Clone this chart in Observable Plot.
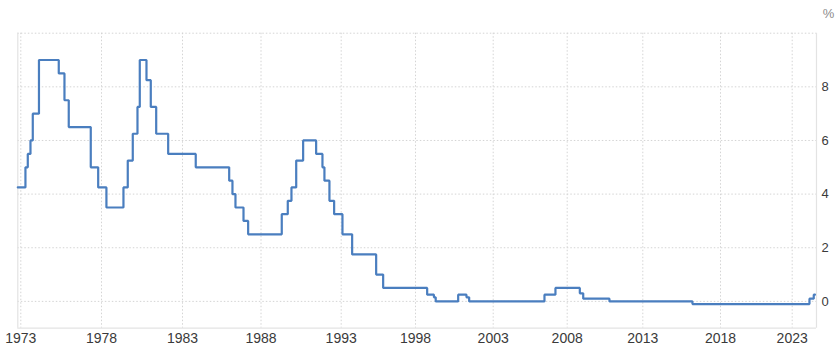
<!DOCTYPE html>
<html>
<head>
<meta charset="utf-8">
<script src="https://cdn.jsdelivr.net/npm/d3@7"></script>
<script src="https://cdn.jsdelivr.net/npm/@observablehq/plot@0.6"></script>
<style>
  html, body { margin: 0; padding: 0; background: #ffffff; }
  #chart svg { display: block; }
</style>
</head>
<body>
<div id="chart"></div>
<script>
// Interest rate (%) — step changes
const changeDates = [
  "1972-10-24", "1973-04-16", "1973-06-08", "1973-08-08", "1973-09-29",
  "1974-02-16", "1975-05-10", "1975-09-16", "1975-12-22", "1977-05-03",
  "1977-10-18", "1978-04-22", "1979-05-11", "1979-08-16", "1979-12-07",
  "1980-03-22", "1980-05-13", "1980-10-11", "1981-01-16", "1981-05-18",
  "1982-02-12", "1983-11-05", "1985-12-22", "1986-03-08", "1986-05-17",
  "1986-11-20", "1987-03-08", "1989-04-18", "1989-09-02", "1989-11-25",
  "1990-03-13", "1990-08-18", "1991-06-10", "1991-11-01", "1991-12-16",
  "1992-04-08", "1992-07-24", "1993-02-01", "1993-09-27", "1995-05-10",
  "1995-10-29", "1998-10-02", "1999-03-10", "1999-04-21", "2000-09-30",
  "2001-04-13", "2001-06-15", "2006-06-19", "2007-03-17", "2008-11-01",
  "2009-01-22", "2010-10-18", "2016-03-13", "2024-03-16", "2024-07-03",
  "2024-08-03"
];
const rates = [
  4.25, 5.0, 5.5, 6.0, 7.0,
  9.0, 8.5, 7.5, 6.5, 5.0,
  4.25, 3.5, 4.25, 5.25, 6.25,
  7.25, 9.0, 8.25, 7.25, 6.25,
  5.5, 5.0, 4.5, 4.0, 3.5,
  3.0, 2.5, 3.25, 3.75, 4.25,
  5.25, 6.0, 5.5, 5.0, 4.5,
  3.75, 3.25, 2.5, 1.75, 1.0,
  0.5, 0.25, 0.15, 0.0, 0.25,
  0.15, 0.0, 0.25, 0.5, 0.3,
  0.1, 0.0, -0.1, 0.1, 0.25,
  0.25
];

// Axis ticks
const xTickYears = [1973, 1978, 1983, 1988, 1993, 1998, 2003, 2008, 2013, 2018, 2023];
const yTickValues = [0, 2, 4, 6, 8];
const yGridValues = [0, 2, 4, 6, 8, 10];

// Scale configuration (piecewise time axis as in the reference)
const xDomainStart = "1972-10-24";
const xDomainEnd = "2024-09-11";
const xAnchorPx = [17.3, 20.3, 101, 182, 260.5, 340.7, 415, 492.7, 566.7, 642.3, 720, 791.7, 816];

const data = changeDates.map((d, i) => ({ date: new Date(d), rate: rates[i] }));
const yearDate = (y) => new Date(Date.UTC(y, 0, 1));
const xTickDates = xTickYears.map(yearDate);
const xDomain = [new Date(xDomainStart), ...xTickDates, new Date(xDomainEnd)];

const W = 840, H = 354;
const mTop = 32.7, mBottom = 26.3, mLeft = 17.3, mRight = 24;

const chart = Plot.plot({
  width: W,
  height: H,
  marginTop: mTop,
  marginBottom: mBottom,
  marginLeft: mLeft,
  marginRight: mRight,
  style: {
    fontFamily: "'Liberation Sans', Arial, sans-serif",
    background: "#ffffff",
    color: "#444444",
    overflow: "visible"
  },
  x: { type: "utc", domain: xDomain, range: xAnchorPx },
  y: { domain: [-1, 10] },
  marks: [
    Plot.gridX(xTickDates, { stroke: "#d4d4d4", strokeOpacity: 1, strokeDasharray: "1.5,2" }),
    Plot.gridY(yGridValues, { stroke: "#d4d4d4", strokeOpacity: 1, strokeDasharray: "1.5,2" }),
    Plot.ruleX([xDomain[0], xDomain[xDomain.length - 1]], { stroke: "#e3e3e3", strokeWidth: 1.2 }),
    Plot.ruleY([-1], { stroke: "#e3e3e3", strokeWidth: 1.2 }),
    Plot.axisX({
      ticks: xTickDates,
      tickSize: 0,
      tickPadding: 5,
      tickFormat: (d) => String(d.getUTCFullYear()),
      fontSize: 14,
      fill: "#3a3a3a",
      label: null
    }),
    Plot.axisY({
      anchor: "right",
      ticks: yTickValues,
      tickSize: 0,
      tickPadding: 5,
      fontSize: 13,
      fill: "#3a3a3a",
      label: null
    }),
    Plot.line(data, {
      x: "date",
      y: "rate",
      curve: "step-after",
      stroke: "#4a7ebf",
      strokeWidth: 2.2,
      strokeLinejoin: "miter"
    }),
    Plot.text(["%"], {
      frameAnchor: "top-right",
      dx: 12,
      dy: -19.5,
      textAnchor: "middle",
      lineAnchor: "middle",
      fontSize: 13,
      fill: "#8c8c8c"
    })
  ]
});

document.getElementById("chart").appendChild(chart);
</script>
</body>
</html>
